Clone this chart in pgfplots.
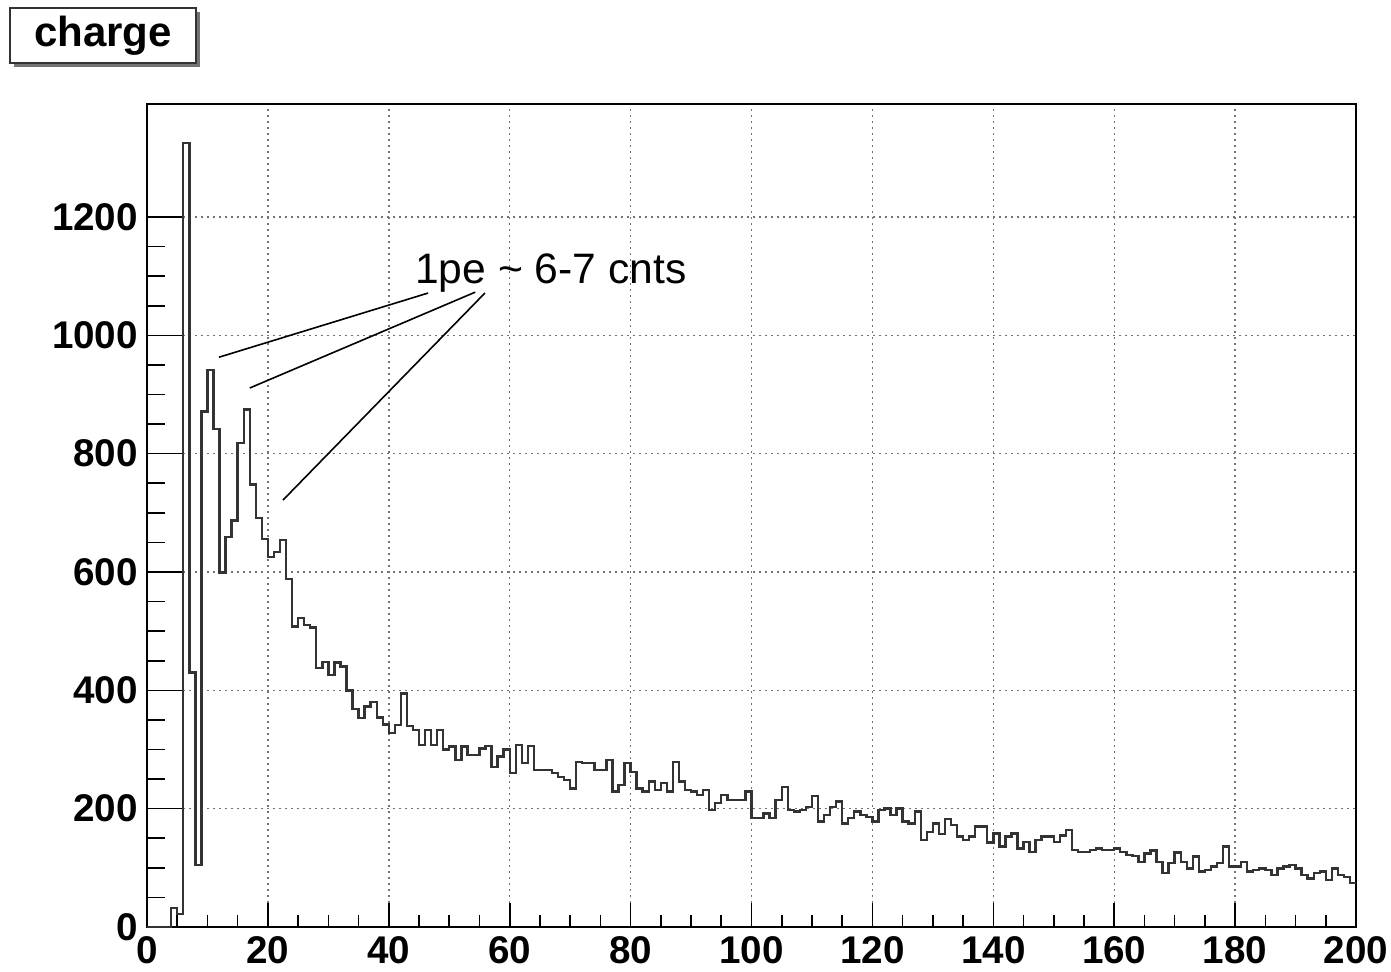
\documentclass[border=0pt]{standalone}
\usepackage{fontspec}
\setmainfont{Liberation Sans}
\usepackage{pgfplots}
\usepackage{pgfplotstable}
\pgfplotsset{compat=1.18}
\pgfplotstableread{
x y
0 0
1 0
2 0
3 0
4 32
5 22
6 1325
7 430
8 105
9 871
10 941
11 842
12 599
13 659
14 687
15 818
16 875
17 748
18 691
19 656
20 625
21 634
22 654
23 588
24 508
25 522
26 510
27 506
28 438
29 448
30 426
31 447
32 440
33 400
34 368
35 353
36 373
37 380
38 354
39 342
40 328
41 341
42 395
43 340
44 333
45 308
46 333
47 308
48 333
49 300
50 305
51 282
52 305
53 291
54 291
55 302
56 306
57 270
58 288
59 300
60 260
61 308
62 277
63 306
64 265
65 265
66 265
67 260
68 254
69 248
70 234
71 279
72 277
73 277
74 265
75 265
76 282
77 229
78 240
79 277
80 262
81 234
82 229
83 246
84 232
85 243
86 229
87 279
88 246
89 232
90 229
91 223
92 232
93 198
94 210
95 223
96 215
97 215
98 215
99 229
100 184
101 184
102 192
103 184
104 215
105 237
106 198
107 195
108 198
109 203
110 221
111 178
112 189
113 203
114 212
115 175
116 184
117 195
118 189
119 186
120 178
121 198
122 200
123 189
124 200
125 178
126 175
127 195
128 147
129 161
130 175
131 157
132 183
133 172
134 153
135 147
136 153
137 170
138 170
139 143
140 158
141 136
142 153
143 158
144 133
145 144
146 127
147 147
148 153
149 153
150 144
151 155
152 164
153 130
154 127
155 127
156 130
157 133
158 130
159 130
160 133
161 127
162 122
163 120
164 110
165 124
166 129
167 110
168 91
169 108
170 126
171 110
172 99
173 119
174 94
175 96
176 102
177 108
178 136
179 102
180 102
181 110
182 94
183 96
184 99
185 96
186 88
187 99
188 102
189 105
190 99
191 88
192 82
193 91
194 94
195 79
196 99
197 88
198 85
199 74
200 74
}\charge
\begin{document}
\begin{tikzpicture}
\path[use as bounding box] (0,0) rectangle (695.5pt,485.5pt);
\begin{axis}[
  at={(73.5pt,22pt)}, anchor=south west,
  scale only axis, width=604.5pt, height=411.5pt,
  xmin=0, xmax=200, ymin=0, ymax=1391,
  xtick={0,20,...,200}, ytick={0,200,...,1200},
  minor x tick num=3, minor y tick num=3,
  tick align=inside,
  xtick pos=bottom, ytick pos=left,
  major tick length=18pt, minor tick length=9pt,
  x tick style={/pgfplots/major tick length=12pt,/pgfplots/minor tick length=6pt},
  every tick/.style={black, line width=0.8pt},
  axis line style={line width=1pt},
  grid=major,
  major grid style={black!55, line width=0.7pt, dash pattern=on 0.9pt off 2.1pt},
  /pgf/number format/assume math mode=true,
  /pgf/number format/1000 sep={},
  tick label style={font=\bfseries\fontsize{19.3}{19.3}\selectfont},
  xticklabel style={yshift=-1pt},
  yticklabel style={xshift=-1pt},
  clip=false,
]
\addplot[const plot, black!80, line width=1.2pt, mark=none] table[x=x,y=y] {\charge};
\draw[black, line width=0.8pt] (axis cs:46.5,1071.5) -- (axis cs:11.9,963);
\draw[black, line width=0.8pt] (axis cs:54.3,1073) -- (axis cs:17.0,911);
\draw[black, line width=0.8pt] (axis cs:55.9,1071.5) -- (axis cs:22.5,721.6);
\node[anchor=base west, inner sep=0pt, font=\fontsize{21.3}{21.3}\selectfont] at (axis cs:44.3,1088) {1pe \char`\~\ 6-7 cnts};
\end{axis}
\fill[black!55] (7pt,452pt) rectangle (100pt,479.5pt);
\draw[black!80, line width=0.7pt, fill=white] (5pt,454pt) rectangle (98pt,481.5pt);
\node[font=\bfseries\fontsize{21}{21}\selectfont, inner sep=0pt] at (51.5pt,467.5pt) {charge};
\end{tikzpicture}
\end{document}
